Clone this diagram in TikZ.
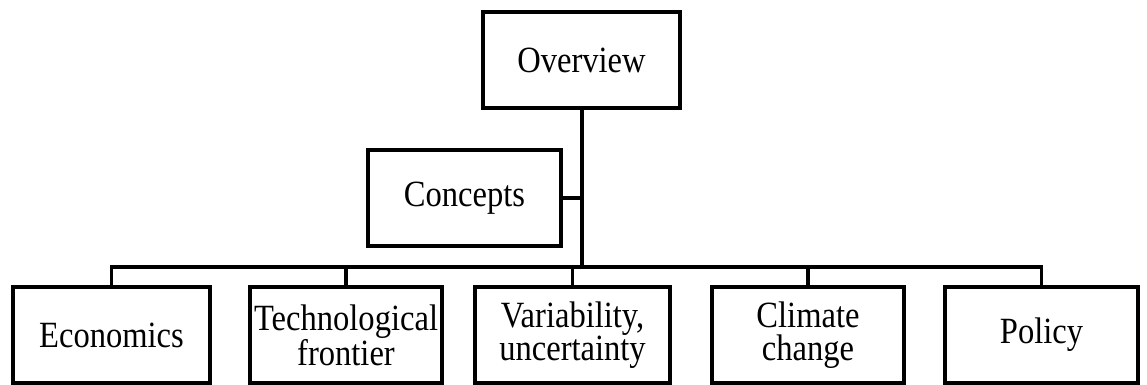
\documentclass[tikz,border=0pt]{standalone}
\usepackage{fontspec}
\setmainfont{Liberation Serif}[FakeStretch=0.88]
\begin{document}
\begin{tikzpicture}[x=1pt,y=-1pt,
  box/.style={draw=black,line width=3.5pt,minimum width=194pt,minimum height=96pt,
    inner sep=0pt,align=center,font=\fontsize{37}{33}\selectfont},
  conn/.style={draw=black,line width=3.5pt}]
\useasboundingbox (0,0) rectangle (1147,385);
\node[box,minimum width=197pt] (ov) at (581.5,60) {Overview};
\node[box,minimum width=193pt] (con) at (464.5,198) {Concepts};
\node[box,minimum width=197pt] (econ) at (111.5,335) {Economics};
\node[box,minimum width=192pt] (tech) at (346,335) {Technological\\frontier};
\node[box,minimum width=195pt] (var) at (572.5,335) {Variability,\\uncertainty};
\node[box,minimum width=192pt] (clim) at (808,335) {Climate\\change};
\node[box,minimum width=193pt] (pol) at (1041.5,335) {Policy};
\coordinate (bus) at (0,267);
\coordinate (trunk) at (582,0);
\draw[conn] (ov.south -| trunk) -- (trunk |- bus);
\draw[conn] (con.east) -- (con.east -| trunk);
\draw[conn,line join=miter] (econ.north) -- (econ.north |- bus) -- (pol.north |- bus) -- (pol.north);
\draw[conn] (tech.north) -- (tech.north |- bus);
\draw[conn] (var.north) -- (var.north |- bus);
\draw[conn] (clim.north) -- (clim.north |- bus);
\end{tikzpicture}
\end{document}
